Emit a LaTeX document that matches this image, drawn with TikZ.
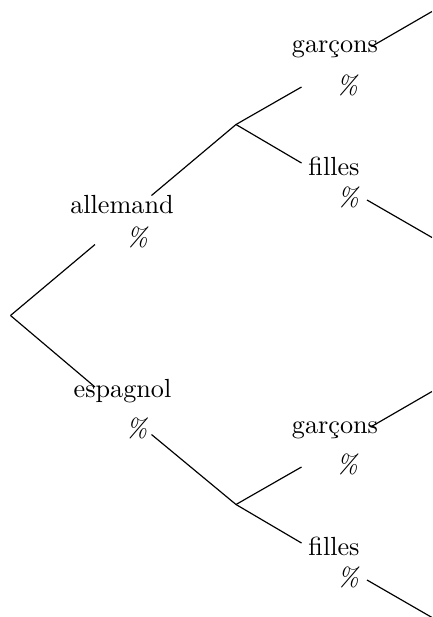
\documentclass[tikz,border=0pt]{standalone}
\begin{document}
\begin{tikzpicture}[x=0.3817pt,y=-0.3817pt,
  lab/.style={anchor=base,inner sep=0pt},
  pct/.style={anchor=base,inner sep=0pt,font=\itshape},
  branch/.style={draw,line width=0.45pt}]
\useasboundingbox (0,0) rectangle (432,617);
\clip (0,0) rectangle (432,617);

% first level
\node[lab] (all) at (122,213) {allemand};
\node[pct] (allp) at (137,246) {\%};
\node[lab] (esp) at (122.5,397) {espagnol};
\node[pct] (espp) at (136.5,437) {\%};

% second level, upper
\node[lab] (g1) at (335,52) {garçons};
\node[pct] (g1p) at (347,94) {\%};
\node[lab] (f1) at (334,175) {filles};
\node[pct] (f1p) at (348,206) {\%};

% second level, lower
\node[lab] (g2) at (335,433) {garçons};
\node[pct] (g2p) at (347,473) {\%};
\node[lab] (f2) at (334,555) {filles};
\node[pct] (f2p) at (348,586) {\%};

% branching points and edge ends
\coordinate (root) at (10.5,315.5);
\coordinate (a-in) at (95,244.5);
\coordinate (a-out) at (151.5,195.5);
\coordinate (e-in) at (95,387);
\coordinate (e-out) at (151.5,434.5);
\coordinate (v1) at (236,124.5);
\coordinate (v2) at (236,504.5);
\coordinate (g1-in) at (301.5,87);
\coordinate (f1-in) at (301.5,163);
\coordinate (g2-in) at (301.5,467);
\coordinate (f2-in) at (301.5,543);
\coordinate (g1-out) at (371.5,46.5);
\coordinate (f1-out) at (367,200);
\coordinate (g2-out) at (371.5,426.5);
\coordinate (f2-out) at (367,580);
\coordinate (g1-end) at (432,11.5);
\coordinate (f1-end) at (432,237.5);
\coordinate (g2-end) at (432,391.5);
\coordinate (f2-end) at (432,617.5);

\draw[branch] (root) -- (a-in);
\draw[branch] (root) -- (e-in);
\draw[branch] (a-out) -- (v1);
\draw[branch] (e-out) -- (v2);
\draw[branch] (v1) -- (g1-in);
\draw[branch] (v1) -- (f1-in);
\draw[branch] (v2) -- (g2-in);
\draw[branch] (v2) -- (f2-in);
\draw[branch] (g1-out) -- (g1-end);
\draw[branch] (f1-out) -- (f1-end);
\draw[branch] (g2-out) -- (g2-end);
\draw[branch] (f2-out) -- (f2-end);
\end{tikzpicture}
\end{document}
